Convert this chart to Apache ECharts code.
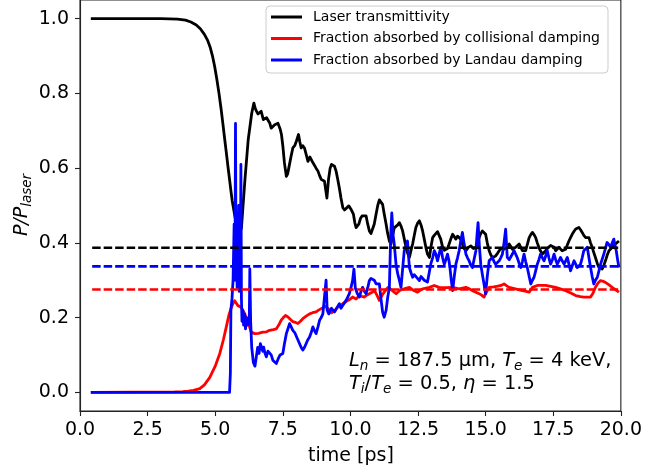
<!DOCTYPE html>
<html>
<head>
<meta charset="utf-8">
<script src="https://cdn.jsdelivr.net/npm/echarts@6/dist/echarts.min.js"></script>
<style>
html,body{margin:0;padding:0;background:#fff;}
#chart{width:645px;height:470px;}
</style>
</head>
<body>
<div id="chart"></div>
<script>
// ---- data (time in ps, value P/P_laser) ----
const timeTrans = [0.4,1,2,3,3.6,3.9,4.1,4.3,4.45,4.6,4.72,4.82,4.9,4.98,5.06,5.14,5.22,5.29,5.35,5.41,5.47,5.53,5.58,5.63,5.73,5.82,5.9,5.97,6.02,6.1,6.22,6.35,6.43,6.48,6.53,6.58,6.65,6.7,6.78,6.83,6.9,6.95,7.02,7.07,7.13,7.2,7.32,7.4,7.45,7.5,7.56,7.63,7.68,7.72,7.8,7.87,7.94,8.0,8.08,8.13,8.18,8.24,8.3,8.37,8.43,8.5,8.55,8.61,8.67,8.73,8.8,8.86,8.92,8.98,9.04,9.09,9.13,9.19,9.25,9.3,9.35,9.41,9.47,9.53,9.59,9.65,9.72,9.78,9.84,9.94,10.02,10.11,10.16,10.21,10.31,10.37,10.43,10.5,10.58,10.64,10.7,10.76,10.82,10.88,10.95,11.01,11.07,11.12,11.19,11.25,11.32,11.37,11.44,11.5,11.56,11.62,11.69,11.75,11.81,11.87,11.93,12.03,12.1,12.18,12.24,12.3,12.36,12.42,12.48,12.55,12.61,12.67,12.73,12.79,12.85,12.92,12.98,13.04,13.1,13.16,13.22,13.28,13.34,13.41,13.47,13.53,13.59,13.65,13.72,13.78,13.84,13.9,13.96,14.02,14.08,14.14,14.2,14.27,14.36,14.45,14.55,14.64,14.7,14.76,14.82,14.88,14.94,15.0,15.06,15.13,15.19,15.25,15.31,15.37,15.44,15.5,15.56,15.62,15.68,15.74,15.8,15.87,15.93,15.99,16.05,16.11,16.17,16.24,16.3,16.36,16.42,16.48,16.55,16.61,16.67,16.73,16.79,16.85,16.91,16.97,17.03,17.1,17.16,17.22,17.28,17.34,17.4,17.47,17.53,17.59,17.65,17.71,17.77,17.83,17.9,17.96,18.02,18.08,18.14,18.2,18.27,18.33,18.39,18.45,18.51,18.57,18.63,18.7,18.76,18.82,18.88,18.94,19.0,19.06,19.13,19.19,19.25,19.31,19.37,19.43,19.49,19.56,19.62,19.68,19.74,19.8,19.87,19.93];
const valTrans = [1.0,1.0,1.0,1.0,0.999,0.996,0.991,0.983,0.973,0.958,0.942,0.922,0.9,0.872,0.838,0.8,0.757,0.715,0.678,0.642,0.605,0.57,0.54,0.512,0.47,0.44,0.425,0.44,0.49,0.57,0.676,0.747,0.774,0.76,0.752,0.745,0.75,0.752,0.73,0.725,0.735,0.738,0.72,0.707,0.712,0.716,0.72,0.705,0.69,0.66,0.614,0.578,0.585,0.6,0.63,0.654,0.66,0.672,0.69,0.67,0.654,0.66,0.654,0.635,0.618,0.63,0.627,0.615,0.61,0.6,0.592,0.58,0.57,0.568,0.565,0.54,0.52,0.57,0.6,0.61,0.614,0.605,0.592,0.57,0.547,0.52,0.494,0.488,0.49,0.499,0.49,0.477,0.455,0.441,0.45,0.465,0.472,0.475,0.472,0.45,0.432,0.425,0.423,0.45,0.477,0.5,0.515,0.51,0.503,0.477,0.45,0.428,0.405,0.397,0.42,0.44,0.441,0.448,0.454,0.445,0.432,0.397,0.375,0.361,0.38,0.397,0.42,0.441,0.452,0.459,0.448,0.432,0.41,0.388,0.37,0.361,0.39,0.414,0.42,0.423,0.43,0.428,0.41,0.388,0.38,0.379,0.385,0.397,0.412,0.423,0.418,0.41,0.418,0.423,0.41,0.397,0.385,0.379,0.388,0.392,0.385,0.388,0.4,0.414,0.425,0.432,0.43,0.423,0.4,0.379,0.368,0.361,0.362,0.365,0.372,0.379,0.385,0.388,0.383,0.379,0.39,0.397,0.39,0.383,0.385,0.388,0.393,0.397,0.388,0.379,0.376,0.379,0.398,0.414,0.422,0.428,0.422,0.414,0.4,0.388,0.378,0.37,0.375,0.379,0.385,0.388,0.393,0.397,0.388,0.379,0.384,0.388,0.383,0.379,0.381,0.383,0.394,0.405,0.414,0.423,0.431,0.437,0.44,0.441,0.435,0.428,0.42,0.414,0.416,0.414,0.4,0.388,0.374,0.361,0.345,0.334,0.331,0.33,0.34,0.352,0.366,0.379,0.384,0.388,0.393,0.397,0.4,0.405];

const timeColl = [0.4,3.5,3.8,4.0,4.2,4.43,4.6,4.8,5.0,5.17,5.3,5.41,5.5,5.6,5.66,5.72,5.78,5.84,5.9,5.96,6.02,6.09,6.15,6.21,6.27,6.33,6.4,6.46,6.6,6.76,6.9,7.01,7.15,7.26,7.35,7.44,7.52,7.6,7.68,7.75,7.85,7.93,8.06,8.15,8.24,8.35,8.49,8.6,8.73,8.82,8.92,9.0,9.08,9.16,9.23,9.3,9.35,9.44,9.53,9.62,9.72,9.8,9.9,10.0,10.08,10.15,10.21,10.27,10.33,10.42,10.52,10.6,10.7,10.8,10.89,10.98,11.07,11.13,11.19,11.25,11.32,11.4,11.46,11.55,11.62,11.69,11.75,11.81,11.9,11.99,12.08,12.18,12.27,12.36,12.48,12.58,12.67,12.8,12.92,13.1,13.28,13.5,13.78,14.02,14.27,14.4,14.51,14.64,14.76,14.85,14.94,15.03,15.13,15.3,15.45,15.57,15.68,15.78,15.87,16.1,16.36,16.5,16.61,16.73,16.91,17.22,17.59,17.96,18.15,18.33,18.5,18.63,18.88,18.97,19.06,19.15,19.25,19.35,19.43,19.55,19.68,19.8,19.93];
const valColl = [0,0.001,0.002,0.003,0.005,0.01,0.02,0.04,0.07,0.104,0.14,0.175,0.205,0.228,0.238,0.245,0.24,0.232,0.228,0.228,0.22,0.21,0.2,0.19,0.175,0.161,0.157,0.157,0.158,0.161,0.162,0.166,0.168,0.17,0.18,0.193,0.2,0.206,0.202,0.197,0.19,0.188,0.184,0.19,0.197,0.203,0.21,0.213,0.215,0.22,0.224,0.227,0.23,0.225,0.219,0.213,0.21,0.22,0.228,0.232,0.237,0.241,0.246,0.25,0.255,0.252,0.25,0.255,0.259,0.257,0.255,0.26,0.264,0.268,0.272,0.26,0.246,0.25,0.262,0.268,0.275,0.281,0.281,0.272,0.268,0.264,0.268,0.272,0.275,0.277,0.279,0.281,0.276,0.272,0.268,0.273,0.277,0.279,0.281,0.286,0.281,0.28,0.281,0.277,0.281,0.277,0.272,0.268,0.264,0.26,0.255,0.268,0.281,0.282,0.284,0.286,0.29,0.285,0.281,0.277,0.272,0.27,0.268,0.281,0.286,0.286,0.281,0.272,0.266,0.259,0.256,0.255,0.255,0.265,0.281,0.292,0.299,0.297,0.294,0.288,0.281,0.275,0.268];

const timeLandau = [0.4,5.53,5.56,5.58,5.62,5.66,5.7,5.73,5.75,5.77,5.79,5.81,5.83,5.85,5.87,5.89,5.91,5.93,5.95,5.97,5.99,6.02,6.05,6.08,6.12,6.16,6.2,6.26,6.28,6.31,6.35,6.41,6.47,6.52,6.57,6.62,6.67,6.72,6.76,6.79,6.84,6.89,6.95,7.01,7.07,7.13,7.2,7.26,7.33,7.4,7.5,7.56,7.63,7.69,7.75,7.81,7.87,7.94,8.0,8.06,8.12,8.18,8.24,8.3,8.36,8.42,8.49,8.55,8.61,8.67,8.73,8.8,8.86,8.92,8.98,9.04,9.1,9.14,9.2,9.25,9.3,9.35,9.41,9.47,9.53,9.59,9.65,9.72,9.78,9.84,9.9,9.96,10.02,10.08,10.13,10.18,10.25,10.33,10.39,10.45,10.52,10.58,10.64,10.7,10.76,10.82,10.88,10.95,11.01,11.07,11.13,11.19,11.25,11.32,11.38,11.44,11.49,11.53,11.58,11.62,11.69,11.75,11.81,11.87,11.93,11.99,12.05,12.11,12.18,12.24,12.3,12.36,12.42,12.48,12.55,12.61,12.67,12.73,12.79,12.85,12.92,12.97,13.04,13.1,13.16,13.22,13.28,13.34,13.41,13.47,13.53,13.59,13.65,13.68,13.73,13.78,13.84,13.9,13.96,14.02,14.08,14.14,14.2,14.27,14.33,14.39,14.45,14.51,14.57,14.64,14.68,14.72,14.77,14.82,14.88,14.94,15.0,15.06,15.13,15.19,15.25,15.31,15.37,15.44,15.5,15.56,15.62,15.68,15.74,15.8,15.87,15.93,15.99,16.05,16.11,16.17,16.24,16.3,16.36,16.42,16.48,16.54,16.61,16.67,16.73,16.79,16.85,16.91,16.97,17.03,17.1,17.16,17.22,17.28,17.34,17.4,17.47,17.53,17.59,17.65,17.71,17.77,17.83,17.9,17.96,18.02,18.08,18.14,18.2,18.27,18.33,18.39,18.45,18.51,18.57,18.63,18.7,18.76,18.82,18.88,18.94,19.0,19.06,19.13,19.19,19.25,19.31,19.37,19.43,19.49,19.56,19.62,19.68,19.74,19.78,19.83,19.88,19.93];
const valLandau = [0,0,0.05,0.22,0.25,0.3,0.45,0.3,0.72,0.35,0.48,0.28,0.45,0.3,0.5,0.27,0.42,0.3,0.61,0.25,0.19,0.22,0.18,0.21,0.17,0.2,0.18,0.19,0.33,0.19,0.12,0.08,0.07,0.068,0.12,0.104,0.13,0.135,0.11,0.121,0.105,0.095,0.11,0.113,0.1,0.086,0.09,0.077,0.09,0.1,0.104,0.13,0.157,0.17,0.184,0.175,0.166,0.16,0.157,0.14,0.13,0.12,0.113,0.12,0.13,0.14,0.148,0.16,0.175,0.165,0.157,0.175,0.193,0.2,0.21,0.255,0.3,0.22,0.21,0.219,0.225,0.228,0.215,0.22,0.23,0.237,0.225,0.23,0.24,0.246,0.255,0.264,0.28,0.299,0.33,0.28,0.265,0.255,0.27,0.281,0.27,0.264,0.28,0.299,0.305,0.308,0.3,0.29,0.285,0.29,0.25,0.215,0.201,0.22,0.255,0.28,0.42,0.48,0.42,0.397,0.34,0.317,0.3,0.281,0.33,0.379,0.39,0.405,0.334,0.32,0.308,0.315,0.31,0.305,0.299,0.31,0.305,0.3,0.303,0.295,0.29,0.343,0.36,0.379,0.37,0.352,0.37,0.388,0.36,0.343,0.355,0.37,0.35,0.334,0.3,0.272,0.31,0.343,0.36,0.379,0.405,0.428,0.4,0.37,0.36,0.352,0.34,0.334,0.355,0.379,0.42,0.454,0.39,0.343,0.315,0.29,0.264,0.31,0.352,0.357,0.361,0.35,0.343,0.348,0.352,0.36,0.37,0.4,0.437,0.361,0.355,0.358,0.37,0.379,0.37,0.36,0.345,0.334,0.35,0.37,0.35,0.334,0.31,0.29,0.3,0.308,0.325,0.343,0.355,0.37,0.36,0.352,0.365,0.379,0.36,0.343,0.355,0.37,0.355,0.343,0.352,0.361,0.352,0.343,0.352,0.361,0.343,0.325,0.338,0.352,0.343,0.334,0.338,0.343,0.36,0.379,0.384,0.388,0.36,0.334,0.31,0.29,0.3,0.308,0.325,0.343,0.356,0.37,0.385,0.401,0.395,0.388,0.4,0.41,0.395,0.379,0.355,0.334];

// time-averaged levels (dashed)
const meanTime = [0.45, 19.95];
const meanTrans = 0.387;
const meanColl = 0.275;
const meanLandau = 0.337;

const xTicks = [0, 2.5, 5, 7.5, 10, 12.5, 15, 17.5, 20];
const yTicks = [0, 0.2, 0.4, 0.6, 0.8, 1.0];

const names = ['Laser transmittivity', 'Fraction absorbed by collisional damping', 'Fraction absorbed by Landau damping'];
const colors = ['#000000', '#ff0000', '#0000ff'];

// ---- chart ----
const FONT = 'DejaVu Sans';
const zip = (ts, vs) => ts.map((t, i) => [t, vs[i]]);
const solid = (name, color, ts, vs) => ({
  name, type: 'line', data: zip(ts, vs), symbol: 'none', silent: true,
  lineStyle: { color, width: 2.8, join: 'round', cap: 'butt' }, itemStyle: { color }
});
const dashed = (color, v) => ({
  type: 'line', data: meanTime.map(t => [t, v]), symbol: 'none', silent: true,
  lineStyle: { color, width: 2.6, type: [8.5, 3] }
});
const mathRich = {
  n: { fontFamily: FONT, fontSize: 19.4, lineHeight: 24 },
  i: { fontFamily: FONT, fontSize: 19.4, fontStyle: 'italic', lineHeight: 24 },
  s: { fontFamily: FONT, fontSize: 13.6, fontStyle: 'italic', lineHeight: 14, verticalAlign: 'bottom' }
};

const chart = echarts.init(document.getElementById('chart'), null, { renderer: 'canvas' });
chart.setOption({
  animation: false,
  backgroundColor: '#ffffff',
  grid: { left: 80, right: 23, top: -2, bottom: 59, show: true, borderColor: '#222', borderWidth: 1.1, backgroundColor: 'transparent' },
  xAxis: {
    type: 'value', min: 0, max: 20, interval: 2.5,
    axisLine: { onZero: false, lineStyle: { color: '#222', width: 1.1 } },
    axisTick: { show: true, length: 5, lineStyle: { color: '#222', width: 1.1 } },
    axisLabel: { margin: 10, fontFamily: FONT, fontSize: 19, color: '#000', formatter: v => v.toFixed(1), customValues: xTicks },
    splitLine: { show: false }
  },
  yAxis: {
    type: 'value', min: -0.05, max: 1.05,
    axisLine: { show: true, onZero: false, lineStyle: { color: '#222', width: 1.1 } },
    axisTick: { show: true, length: 5, customValues: yTicks, lineStyle: { color: '#222', width: 1.1 } },
    axisLabel: { margin: 11, fontFamily: FONT, fontSize: 19, color: '#000', formatter: v => v.toFixed(1), customValues: yTicks },
    splitLine: { show: false }
  },
  legend: {
    data: names, orient: 'vertical', left: 266, top: 6,
    padding: [3, 8, 5, 5], itemGap: 5.5, itemWidth: 31, itemHeight: 3, icon: 'rect',
    backgroundColor: 'rgba(255,255,255,0.8)', borderColor: '#cccccc', borderWidth: 1, borderRadius: 4,
    textStyle: { fontFamily: FONT, fontSize: 14, color: '#000', lineHeight: 16, padding: [0, 0, 0, 6] },
    selectedMode: false
  },
  series: [
    solid(names[0], colors[0], timeTrans, valTrans),
    solid(names[1], colors[1], timeColl, valColl),
    solid(names[2], colors[2], timeLandau, valLandau),
    dashed(colors[0], meanTrans),
    dashed(colors[2], meanLandau),
    dashed(colors[1], meanColl)
  ],
  graphic: [
    { type: 'text', x: 351, y: 456, style: { text: 'time [ps]', font: '19px "DejaVu Sans"', fill: '#000', align: 'center', verticalAlign: 'middle' } },
    { type: 'text', x: 22, y: 205, rotation: Math.PI / 2,
      style: { text: '{a|P/P}{b|laser}', align: 'center', verticalAlign: 'middle', fill: '#000',
        rich: {
          a: { fontFamily: FONT, fontSize: 19, fontStyle: 'italic', lineHeight: 24 },
          b: { fontFamily: FONT, fontSize: 13.5, fontStyle: 'italic', lineHeight: 14, verticalAlign: 'bottom' }
        } } },
    { type: 'text', x: 349, y: 361,
      style: { text: '{i|L}{s|n}{n| = 187.5 μm, }{i|T}{s|e}{n| = 4 keV,}', align: 'left', verticalAlign: 'middle', fill: '#000', rich: mathRich } },
    { type: 'text', x: 349, y: 384,
      style: { text: '{i|T}{s|i}{n|/}{i|T}{s|e}{n| = 0.5, }{i|η}{n| = 1.5}', align: 'left', verticalAlign: 'middle', fill: '#000', rich: mathRich } }
  ]
});
</script>
</body>
</html>
